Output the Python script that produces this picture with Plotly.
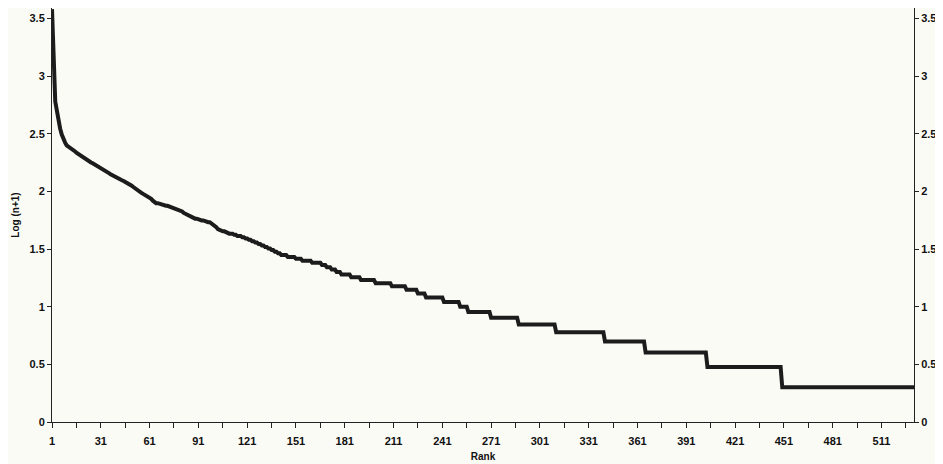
import plotly.graph_objects as go
import numpy as np

# Abundance (individuals per species) and number of species sharing that abundance,
# in descending order of abundance.
abundance = [3800, 1000, 600, 500, 400, 350, 310, 280, 265, 250,
             245, 240, 235, 228, 222, 215, 210, 205, 200, 196,
             192, 188, 184, 180, 177, 174, 171, 168, 165, 162,
             158, 155, 152, 149, 146, 143, 140, 138, 135, 133, 131,
             129, 127, 124, 122, 120, 118, 116, 114,
             111, 108, 105, 102, 100, 97,
             96, 94, 92, 91, 89, 88,
             85, 82, 79,
             78, 77, 76, 75, 74, 73, 72, 71,
             70, 69, 68, 67, 66, 64, 63, 62, 60, 59,
             58, 57, 56, 55, 54, 53,
             52, 50, 49, 48, 46, 45,
             44, 43, 42, 41, 40,
             39, 38, 37, 36, 35, 34,
             33, 32, 31, 30, 29, 28,
             27, 26, 25, 24, 23,
             22, 21, 20, 19, 18, 17,
             16, 15, 14, 13, 12, 11, 10, 9, 8, 7, 6, 5, 4, 3, 2, 1]
species_count = [1, 1, 1, 1, 1, 1, 1, 1, 1, 1,
                 1, 1, 1, 1, 1, 1, 1, 1, 1, 1,
                 1, 1, 1, 1, 1, 1, 1, 1, 1, 1,
                 1, 1, 1, 1, 1, 1, 1, 1, 1, 1, 1,
                 1, 1, 1, 1, 1, 1, 1, 1,
                 1, 1, 1, 1, 1, 1,
                 1, 1, 1, 1, 1, 1,
                 1, 1, 1,
                 2, 1, 2, 1, 2, 1, 2, 1,
                 1, 1, 1, 1, 1, 1, 1, 1, 1, 1,
                 2, 2, 2, 2, 2, 2,
                 1, 1, 1, 1, 1, 1,
                 3, 2, 3, 2, 3,
                 2, 2, 2, 2, 2, 2,
                 2, 2, 2, 2, 2, 2,
                 4, 5, 4, 6, 6,
                 3, 3, 3, 3, 6, 6,
                 9, 10, 9, 7, 5, 11, 10, 5, 14, 17, 23, 30, 25, 38, 46, 82]

x_tick_labels = [str(v) for v in range(1, 531, 30)]
y_tick_vals = [0, 0.5, 1, 1.5, 2, 2.5, 3, 3.5]
y_tick_text = ["0", "0.5", "1", "1.5", "2", "2.5", "3", "3.5"]

ranked = np.repeat(abundance, species_count)
ranks = np.arange(1, len(ranked) + 1)
log_vals = np.log10(ranked + 1)

FONT = "Liberation Sans, Arial, sans-serif"
BG = "#fbfbf6"
AX = "#222222"

fig = go.Figure()
fig.add_trace(go.Scatter(x=ranks, y=log_vals, mode="lines",
                         line=dict(color="#1c1c1c", width=4),
                         showlegend=False))
fig.add_trace(go.Scatter(x=ranks, y=log_vals, mode="lines", yaxis="y2",
                         line=dict(color="rgba(0,0,0,0)", width=0),
                         hoverinfo="skip", showlegend=False))

yaxis_common = dict(range=[0, 3.59], tickmode="array", tickvals=y_tick_vals,
                    ticktext=["<b>%s</b>" % t for t in y_tick_text],
                    ticks="outside", ticklen=4, tickcolor=AX,
                    showline=True, linecolor=AX, linewidth=1,
                    showgrid=False, zeroline=False,
                    tickfont=dict(family=FONT, size=11, color="#111"))

fig.update_layout(
    width=935, height=456,
    margin=dict(l=44, r=29, t=0, b=42),
    paper_bgcolor=BG, plot_bgcolor=BG,
    font=dict(family=FONT, size=11, color="#111111"),
    xaxis=dict(range=[1, len(ranked)], tickmode="array",
               tickvals=[int(t) for t in x_tick_labels],
               ticktext=["<b>%s</b>" % t for t in x_tick_labels],
               ticks="outside", ticklen=5, tickcolor=AX, tickwidth=1,
               ticklabelstandoff=4,
               minor=dict(dtick=15, tick0=1, ticks="outside", ticklen=5,
                          tickcolor=AX, showgrid=False),
               showline=True, linecolor=AX, linewidth=1,
               showgrid=False, zeroline=False,
               tickfont=dict(family=FONT, size=11, color="#111"),
               title=dict(text="<b>Rank</b>", standoff=6,
                          font=dict(family=FONT, size=10, color="#111"))),
    yaxis=dict(**yaxis_common,
               title=dict(text="<b>Log (n+1)</b>", standoff=8,
                          font=dict(family=FONT, size=10, color="#111"))),
    yaxis2=dict(**yaxis_common, overlaying="y", side="right"),
)

fig.write_html("out.html")
